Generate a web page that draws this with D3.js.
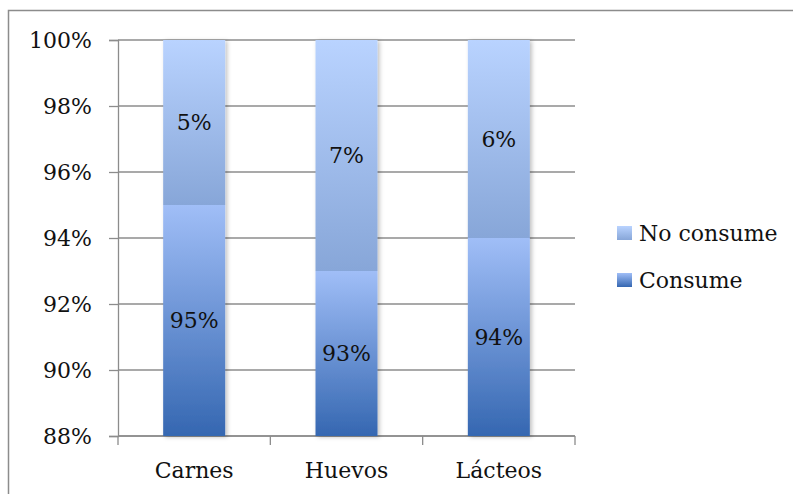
<!DOCTYPE html>
<html>
<head>
<meta charset="utf-8">
<script src="https://cdn.jsdelivr.net/npm/d3@7"></script>
<style>
  html, body { margin: 0; padding: 0; background: #fff; }
  svg { display: block; font-family: "DejaVu Serif", serif; }
</style>
</head>
<body>
<svg id="chart" width="793" height="494"></svg>
<script>
// Categories and stacked shares (percent)
const categories = ["Carnes", "Huevos", "Lácteos"];
const consume = [95, 93, 94];
const noConsume = [5, 7, 6];
const seriesNames = ["Consume", "No consume"];
const yTicks = [88, 90, 92, 94, 96, 98, 100];

const svg = d3.select("#chart");
const W = 793, H = 494;
const plot = { left: 118, top: 40, right: 575, bottom: 436 };

// Outer frame (clipped at the right and bottom edges)
svg.append("path")
  .attr("d", `M8.5,${H + 2} L8.5,10.5 L${W + 2},10.5`)
  .attr("fill", "none").attr("stroke", "#8c8c8c").attr("stroke-width", 1.5);

const x = d3.scaleBand().domain(categories).range([plot.left, plot.right]).paddingInner(0).paddingOuter(0);
const y = d3.scaleLinear().domain([88, 100]).range([plot.bottom, plot.top]);

const defs = svg.append("defs");
function grad(id, top, bottom) {
  const g = defs.append("linearGradient").attr("id", id)
    .attr("x1", 0).attr("y1", 0).attr("x2", 0).attr("y2", 1);
  g.append("stop").attr("offset", "0%").attr("stop-color", top);
  g.append("stop").attr("offset", "100%").attr("stop-color", bottom);
}
grad("gConsume", "#a0bef7", "#3567b1");
grad("gNo", "#b9d3ff", "#87a6d8");
const f = defs.append("filter").attr("id", "shadow")
  .attr("x", "-20%").attr("y", "-5%").attr("width", "140%").attr("height", "110%");
f.append("feDropShadow").attr("dx", 2).attr("dy", 1).attr("stdDeviation", 2)
  .attr("flood-color", "#000").attr("flood-opacity", 0.25);

// Horizontal gridlines
svg.append("g").selectAll("line").data(yTicks).join("line")
  .attr("x1", plot.left).attr("x2", plot.right)
  .attr("y1", d => y(d)).attr("y2", d => y(d))
  .attr("stroke", "#8c8c8c").attr("stroke-width", 1.3);

// Y axis
const yAxis = svg.append("g").attr("transform", `translate(${plot.left},0)`)
  .call(d3.axisLeft(y).tickValues(yTicks).tickSize(9).tickPadding(17).tickFormat(d => d + "%"));
yAxis.select(".domain").attr("stroke", "#8c8c8c").attr("stroke-width", 1.3);
yAxis.selectAll(".tick line").attr("stroke", "#8c8c8c").attr("stroke-width", 1.3);
yAxis.selectAll(".tick text").attr("font-size", 22).attr("font-family", "DejaVu Serif")
  .attr("fill", "#111").attr("dy", "0.36em");

// X axis: ticks at category boundaries
const bounds = categories.map(c => x(c)).concat([plot.right]);
const xg = svg.append("g");
xg.append("line").attr("x1", plot.left).attr("x2", plot.right)
  .attr("y1", plot.bottom).attr("y2", plot.bottom)
  .attr("stroke", "#8c8c8c").attr("stroke-width", 1.3);
xg.selectAll("line.t").data(bounds).join("line").attr("class", "t")
  .attr("x1", d => d).attr("x2", d => d)
  .attr("y1", plot.bottom).attr("y2", plot.bottom + 9)
  .attr("stroke", "#8c8c8c").attr("stroke-width", 1.3);
xg.selectAll("text").data(categories).join("text")
  .attr("x", d => x(d) + x.bandwidth() / 2).attr("y", 478)
  .attr("text-anchor", "middle").attr("font-size", 22).attr("fill", "#111")
  .text(d => d);

// Stacked bars
const barW = 62;
const bars = svg.append("g");
categories.forEach((c, i) => {
  const cx = x(c) + x.bandwidth() / 2;
  const g = bars.append("g").attr("filter", "url(#shadow)");
  const base = y.domain()[0];
  g.append("rect")
    .attr("x", cx - barW / 2).attr("width", barW)
    .attr("y", y(consume[i])).attr("height", y(base) - y(consume[i]))
    .attr("fill", "url(#gConsume)");
  const top = consume[i] + noConsume[i];
  g.append("rect")
    .attr("x", cx - barW / 2).attr("width", barW)
    .attr("y", y(top)).attr("height", y(consume[i]) - y(top))
    .attr("fill", "url(#gNo)");
  bars.append("text")
    .attr("x", cx).attr("y", (y(consume[i]) + y(base)) / 2)
    .attr("dy", "0.36em").attr("text-anchor", "middle")
    .attr("font-size", 22).attr("fill", "#111")
    .text(consume[i] + "%");
  bars.append("text")
    .attr("x", cx).attr("y", (y(top) + y(consume[i])) / 2)
    .attr("dy", "0.36em").attr("text-anchor", "middle")
    .attr("font-size", 22).attr("fill", "#111")
    .text(noConsume[i] + "%");
});

// Legend
const legendItems = [
  { name: seriesNames[1], fill: "url(#gNo)", y: 233 },
  { name: seriesNames[0], fill: "url(#gConsume)", y: 280 }
];
const lg = svg.append("g");
legendItems.forEach(d => {
  lg.append("rect").attr("x", 617).attr("y", d.y - 7).attr("width", 15).attr("height", 14)
    .attr("fill", d.fill);
  lg.append("text").attr("x", 639).attr("y", d.y).attr("dy", "0.36em")
    .attr("font-size", 22).attr("fill", "#111").text(d.name);
});
</script>
</body>
</html>
